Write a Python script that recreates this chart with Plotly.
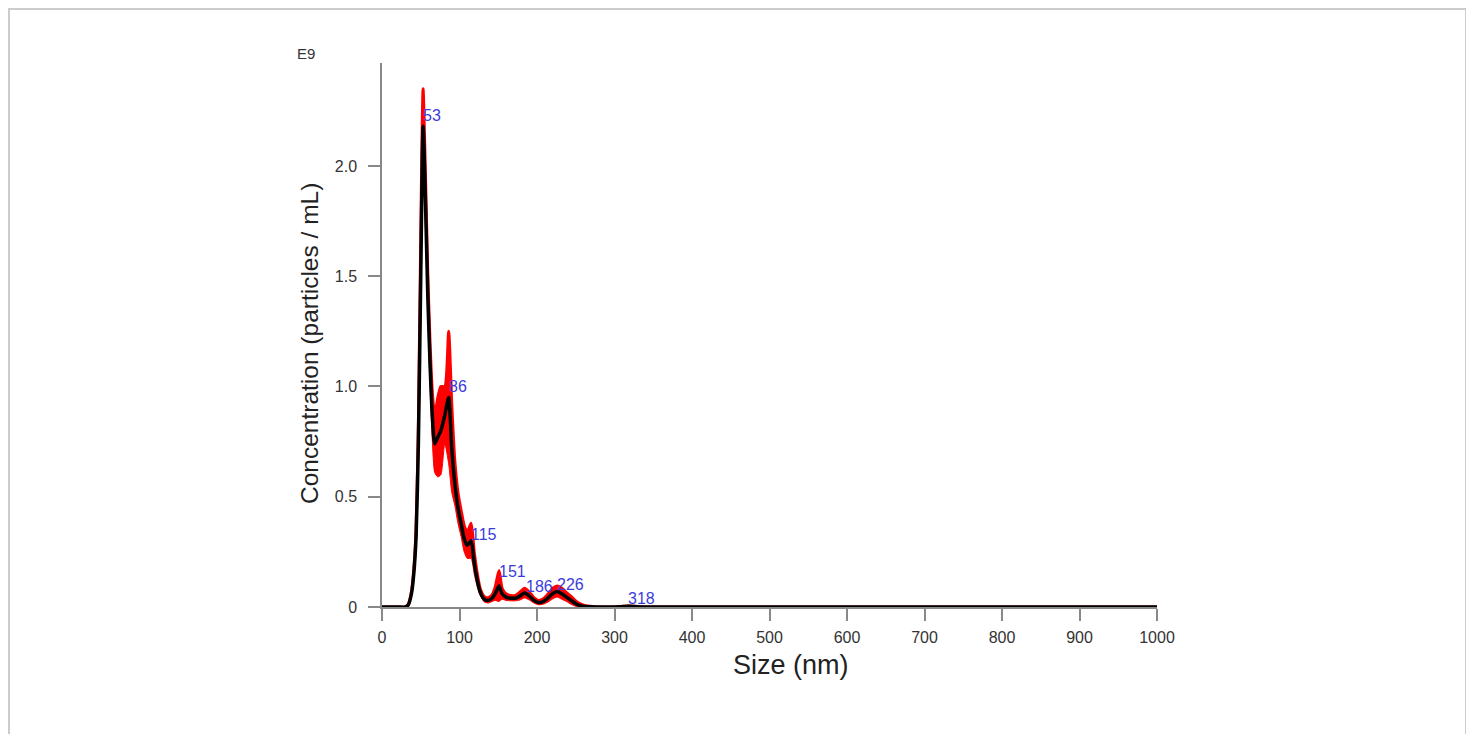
import plotly.graph_objects as go

# Size (nm)
sizes = [0, 10, 20, 30, 34, 38, 41, 44, 47, 50, 53, 56, 59, 62, 65, 68, 72, 76, 81, 86,
         90, 94, 98, 102, 106, 110, 115, 119, 123, 127, 132, 137, 142, 146, 151, 155,
         160, 166, 172, 178, 184, 190, 196, 202, 208, 214, 220, 226, 232, 238, 244,
         250, 256, 262, 270, 280, 300, 318, 340, 400, 500, 600, 700, 800, 900, 1000]
# Mean concentration (E9 particles / mL)
mean_conc = [0, 0, 0, 0.0, 0.01, 0.06, 0.15, 0.32, 0.75, 1.5, 2.18, 1.85, 1.42, 1.1, 0.86, 0.74,
             0.77, 0.80, 0.87, 0.95, 0.72, 0.56, 0.45, 0.38, 0.31, 0.28, 0.30, 0.2, 0.12,
             0.065, 0.035, 0.03, 0.04, 0.06, 0.095, 0.06, 0.045, 0.04, 0.04, 0.05, 0.063,
             0.05, 0.03, 0.02, 0.025, 0.04, 0.06, 0.07, 0.06, 0.045, 0.03, 0.015, 0.006,
             0.002, 0.001, 0.0, 0.0, 0.003, 0.0, 0.0, 0.0, 0.0, 0.0, 0.0, 0.0, 0.0]
# Standard error (E9 particles / mL)
std_err = [0, 0, 0, 0.0, 0.003, 0.01, 0.02, 0.04, 0.1, 0.18, 0.17, 0.12, 0.1, 0.1, 0.11, 0.13,
           0.18, 0.2, 0.13, 0.3, 0.2, 0.1, 0.07, 0.06, 0.06, 0.06, 0.08, 0.05, 0.03,
           0.015, 0.012, 0.012, 0.015, 0.03, 0.07, 0.025, 0.015, 0.012, 0.012, 0.018, 0.022,
           0.018, 0.012, 0.01, 0.012, 0.018, 0.024, 0.025, 0.025, 0.02, 0.018, 0.012, 0.008,
           0.004, 0.002, 0.0, 0.0, 0.001, 0.0, 0.0, 0.0, 0.0, 0.0, 0.0, 0.0, 0.0]

peak_sizes = [53, 86, 115, 151, 186, 226, 318]
peak_label_y = [2.23, 1.0, 0.33, 0.16, 0.095, 0.104, 0.04]

y_tickvals = [0, 0.5, 1.0, 1.5, 2.0]
y_ticktext = ["0", "0.5", "1.0", "1.5", "2.0"]
x_tickvals = [0, 100, 200, 300, 400, 500, 600, 700, 800, 900, 1000]

upper = [m + e for m, e in zip(mean_conc, std_err)]
lower = [max(m - e, 0) for m, e in zip(mean_conc, std_err)]

FONT = "Liberation Sans, Arial"

# pixel helpers relative to the plot area (left=382, bottom=607, 775x544)
def px_x(p):
    return (p - 382) / 775

def px_y(p):
    return (607 - p) / 544

fig = go.Figure()
fig.add_trace(go.Scatter(x=sizes, y=lower, mode="lines",
                         line=dict(color="rgb(255,0,0)", width=1, shape="spline", smoothing=0.6),
                         showlegend=False, hoverinfo="skip"))
fig.add_trace(go.Scatter(x=sizes, y=upper, mode="lines", fill="tonexty",
                         fillcolor="rgb(255,0,0)",
                         line=dict(color="rgb(255,0,0)", width=3, shape="spline", smoothing=0.6),
                         showlegend=False, hoverinfo="skip"))
fig.add_trace(go.Scatter(x=sizes, y=mean_conc, mode="lines",
                         line=dict(color="black", width=3.5, shape="spline", smoothing=0.6),
                         showlegend=False))

for px, py in zip(peak_sizes, peak_label_y):
    fig.add_annotation(x=px, y=py, text=str(px), showarrow=False, xanchor="left",
                       yanchor="middle", xshift=-2,
                       font=dict(family=FONT, size=16, color="rgb(60,60,220)"))

fig.add_annotation(xref="paper", yref="paper", x=px_x(295), y=px_y(54),
                   text="E9", showarrow=False, xanchor="left", yanchor="middle",
                   font=dict(family=FONT, size=15, color="#333"))

# axis titles
fig.add_annotation(xref="paper", yref="paper", x=px_x(791), y=px_y(665),
                   text="Size (nm)", showarrow=False, xanchor="center", yanchor="middle",
                   font=dict(family=FONT, size=27, color="#222"))
fig.add_annotation(xref="paper", yref="paper", x=px_x(309), y=px_y(344),
                   text="Concentration (particles / mL)", showarrow=False, textangle=-90,
                   xanchor="center", yanchor="middle",
                   font=dict(family=FONT, size=24.5, color="#222"))

# outer frame
fig.add_shape(type="rect", xref="paper", yref="paper",
              x0=px_x(9), x1=px_x(1466), y0=px_y(800), y1=px_y(9),
              line=dict(color="#cccccc", width=2), fillcolor="rgba(0,0,0,0)", layer="below")

fig.update_layout(
    width=1474, height=734,
    margin=dict(l=374, r=325, t=55, b=135),
    paper_bgcolor="white", plot_bgcolor="white",
    font=dict(family=FONT, color="#333"),
    xaxis=dict(range=[0, 1000], tickvals=x_tickvals, showgrid=False, zeroline=False,
               showline=True, linecolor="#888", linewidth=1.5,
               ticks="outside", ticklen=12, tickcolor="#888", tickwidth=1.5,
               ticklabelstandoff=3,
               tickfont=dict(size=16, color="#333")),
    yaxis=dict(range=[0, 2.467], tickvals=y_tickvals, ticktext=y_ticktext,
               showgrid=False, zeroline=False,
               showline=True, linecolor="#888", linewidth=1.5,
               ticks="outside", ticklen=12, tickcolor="#888", tickwidth=1.5,
               ticklabelstandoff=8,
               tickfont=dict(size=16, color="#333")),
)

fig.write_html("out.html")
